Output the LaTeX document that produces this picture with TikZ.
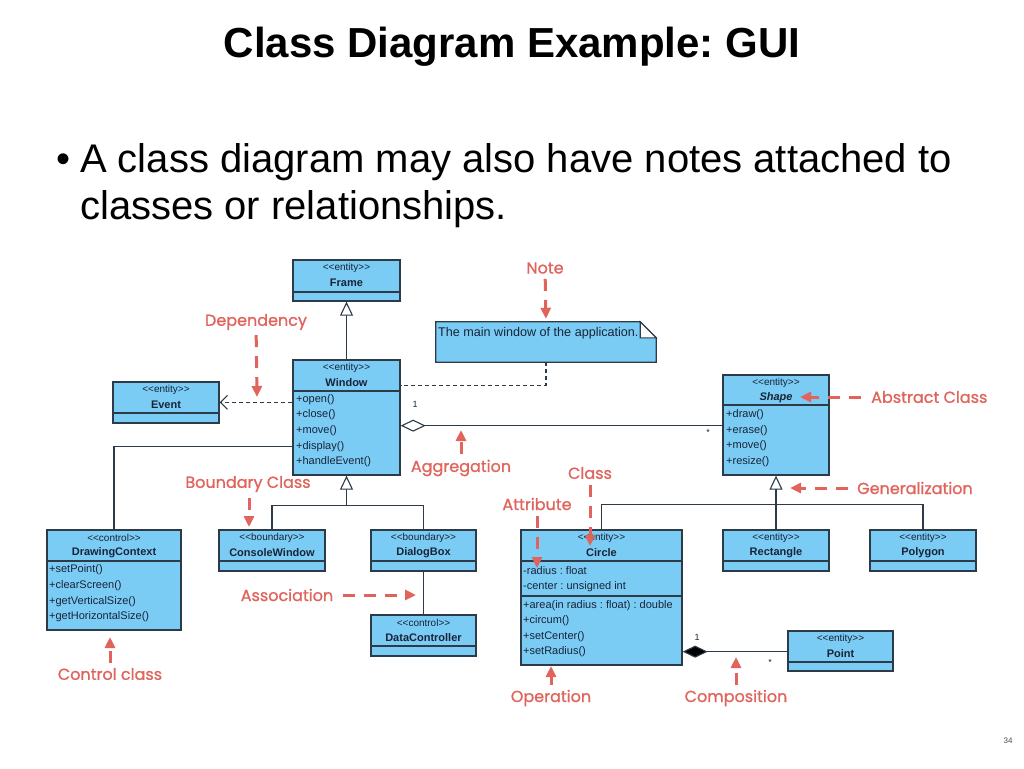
\documentclass[tikz,border=0pt]{standalone}
\usepackage{fontspec}
\setmainfont{Liberation Sans}
\newfontfamily\annfont{Poppins}[FakeBold=1]
\usetikzlibrary{arrows.meta,fit,calc}
\definecolor{clsfill}{RGB}{122,204,245}
\definecolor{clsdraw}{RGB}{45,58,72}
\definecolor{clstext}{RGB}{25,35,55}
\definecolor{annred}{RGB}{224,100,92}
\frenchspacing
\tikzset{
  cls/.style={draw=clsdraw, fill=clsfill, line width=1.3pt, inner sep=0pt, rectangle},
  sepline/.style={draw=clsdraw, line width=1.1pt},
  stereo/.style={font=\fontsize{10}{11}\selectfont, text=clstext, inner sep=0pt},
  cname/.style={font=\bfseries\fontsize{11}{12}\selectfont, text=clstext, inner sep=0pt},
  member/.style={font=\fontsize{11}{12}\selectfont, text=clstext, inner sep=0pt, anchor=west},
  mult/.style={font=\fontsize{9}{10}\selectfont, text=clstext, inner sep=0pt},
  conn/.style={draw=clsdraw, line width=1.1pt},
  dconn/.style={conn, dash pattern=on 4pt off 3pt},
  gen/.style={conn, -{Triangle[open, fill=white, width=13pt, length=14pt]}},
  ann/.style={font=\annfont\fontsize{16}{17}\selectfont, text=annred, inner sep=0pt},
  annarrow/.style={draw=annred, line width=3pt, dash pattern=on 12pt off 9pt,
    -{Triangle[width=10pt, length=11pt]}},
}
\newcommand\umlcls[8]{%
  \node[cls, fit={(#2,#3)(#4,#5)}] (#1) {};
  \draw[sepline] (#2,#6) -- (#4,#6);
  \node[stereo] at ({(#2+#4)/2},{#3+8}) {#7};
  \node[cname] at ({(#2+#4)/2},{#3+23}) {#8};
}
\newcommand\ent{<\kern0pt<entity>\kern0pt>}
\newcommand\bnd{<\kern0pt<boundary>\kern0pt>}
\newcommand\ctl{<\kern0pt<control>\kern0pt>}
\begin{document}
\begin{tikzpicture}[x=1pt,y=-1pt]
\useasboundingbox (0,0) rectangle (1024,768);
\fill[white] (0,0) rectangle (1024,768);

% title and bullet
\node[font=\bfseries\fontsize{42}{46}\selectfont, inner sep=0pt] (title) at (512,47) {Class Diagram Example: GUI};
\node[font=\fontsize{40}{44}\selectfont, inner sep=0pt, anchor=base west] (bul) at (56,172) {•};
\node[font=\fontsize{40}{44}\selectfont, inner sep=0pt, anchor=base west] (b1) at (80,172) {A class diagram may also have notes attached to};
\node[font=\fontsize{40}{44}\selectfont, inner sep=0pt, anchor=base west] (b2) at (80,219) {classes or relationships.};

% classes
\umlcls{frame}{293}{260}{400}{301}{292}{\ent}{Frame}
\umlcls{window}{293}{360}{400}{475}{391}{\ent}{Window}
\node[member] at (296,400) {+open()};
\node[member] at (296,415) {+close()};
\node[member] at (296,431) {+move()};
\node[member] at (296,447) {+display()};
\node[member] at (296,462) {+handleEvent()};
\umlcls{event}{113}{382}{219}{423}{413}{\ent}{Event}
\umlcls{shape}{723}{375}{829}{475}{405}{\ent}{\textit{Shape}}
\node[member] at (726,415) {+draw()};
\node[member] at (726,431) {+erase()};
\node[member] at (726,446) {+move()};
\node[member] at (726,462) {+resize()};
\umlcls{dc}{47}{530}{181}{630}{561}{\ctl}{DrawingContext}
\node[member] at (49,570) {+setPoint()};
\node[member] at (49,586) {+clearScreen()};
\node[member] at (49,602) {+getVerticalSize()};
\node[member] at (49,617) {+getHorizontalSize()};
\umlcls{cw}{219}{530}{325}{571}{561}{\bnd}{ConsoleWindow}
\umlcls{db}{371}{530}{476}{571}{561}{\bnd}{DialogBox}
\umlcls{dctrl}{371}{615}{476}{656}{646}{\ctl}{DataController}
\umlcls{ccircle}{521}{530}{682}{665}{561}{\ent}{Circle}
\draw[sepline] (521,596) -- (682,596);
\node[member] at (523,571) {-radius : float};
\node[member] at (523,587) {-center : unsigned int};
\node[member] at (523,606) {+area(in radius : float) : double};
\node[member] at (523,621) {+circum()};
\node[member] at (523,637) {+setCenter()};
\node[member] at (523,652) {+setRadius()};
\umlcls{rect}{723}{530}{829}{571}{561}{\ent}{Rectangle}
\umlcls{poly}{870}{530}{976}{571}{561}{\ent}{Polygon}
\umlcls{point}{788}{631}{893}{671}{662}{\ent}{Point}

% note
\node[inner sep=0pt, fit={(436,322)(656,362)}] (note) {};
\filldraw[draw=clsdraw, fill=clsfill, line width=1.3pt] (note.north west) -- ([xshift=-16pt]note.north east) -- ([yshift=-16pt]note.north east) -- (note.south east) -- (note.south west) -- cycle;
\filldraw[draw=clsdraw, fill=white, line width=1.1pt] ([xshift=-16pt]note.north east) -- ([xshift=-16pt,yshift=-16pt]note.north east) -- ([yshift=-16pt]note.north east) -- cycle;
\node[member, font=\fontsize{12.6}{13}\selectfont] (notetext) at (438,333) {The main window of the application.};

% connectors
\draw[gen] (window.north) -- (frame.south);
\coordinate (wdep) at ($(window.north west)+(0,43)$);
\draw[dconn, -{Straight Barb[length=7pt, width=14pt]}] (wdep) -- (wdep -| event.east);
\coordinate (wnote) at ($(window.north east)+(0,26)$);
\draw[dconn] (note.south) |- (wnote);
\coordinate (wagg) at ($(window.south east)+(0,-50)$);
\draw[conn, {Diamond[fill=white, width=12pt, length=25pt]}-] (wagg) -- (wagg -| shape.west);
\node[mult] at (415,404) {1};
\node[mult] at (708,432) {*};
\coordinate (wdc) at ($(window.north west)+(0,87)$);
\draw[conn] (wdc) -| (dc.north);
\coordinate (wj) at ($(window.south)+(0,30)$);
\draw[conn] (cw.north) |- (wj) -| (db.north);
\draw[gen] (wj) -- (window.south);
\draw[conn] (db.south) -- (dctrl.north);
\coordinate (sj) at ($(shape.south)+(0,29)$);
\draw[conn] (ccircle.north) |- (sj) -| (poly.north);
\draw[conn] (rect.north) -- (rect.north |- sj);
\draw[gen] (sj) -- (shape.south);
\coordinate (cc) at ($(ccircle.south east)+(0,-14)$);
\draw[conn, {Diamond[fill=black, width=12pt, length=25pt]}-] (cc) -- (cc -| point.west);
\node[mult] at (697,637) {1};
\node[mult] at (770,662) {*};

% annotations
\node[ann] (lnote) at (545,268) {Note};
\draw[annarrow, shorten <=5pt, shorten >=3pt] (lnote) -- (note.north);
\node[ann] (ldep) at (256,322) {Dependency};
\coordinate (tdep) at (257,397);
\draw[annarrow, shorten <=5pt] (ldep) -- (tdep);
\node[ann, anchor=west] (labs) at (871,397) {Abstract Class};
\coordinate (tabs) at (800,397);
\draw[annarrow, shorten <=10pt] (labs) -- (tabs);
\node[ann] (lagg) at (461,468) {Aggregation};
\coordinate (tagg) at (461,430);
\draw[annarrow, shorten <=6pt] (lagg) -- (tagg);
\node[ann] (lbnd) at (248,484) {Boundary Class};
\coordinate (tbnd) at (249,527);
\draw[annarrow, shorten <=6pt] (lbnd.south -| tbnd) -- (tbnd);
\node[ann] (lcls) at (590,473) {Class};
\coordinate (tcls) at (590,546);
\draw[annarrow, shorten <=6pt] (lcls) -- (tcls);
\node[ann] (latt) at (537,504) {Attribute};
\coordinate (tatt) at (537,568);
\draw[annarrow, shorten <=6pt] (latt) -- (tatt);
\node[ann, anchor=west] (lgen) at (857,488) {Generalization};
\coordinate (tgen) at (790,488);
\draw[annarrow, shorten <=9pt] (lgen) -- (tgen);
\node[ann] (lasc) at (287,595) {Association};
\coordinate (tasc) at (416,595);
\draw[annarrow, shorten <=10pt] (lasc) -- (tasc);
\node[ann] (lctl) at (110,674) {Control class};
\coordinate (tctl) at (110,637);
\draw[annarrow, shorten <=5pt] (lctl) -- (tctl);
\node[ann] (lop) at (551,698) {Operation};
\coordinate (top) at (551,666);
\draw[annarrow, shorten <=5pt] (lop) -- (top);
\node[ann] (lcomp) at (736,698) {Composition};
\coordinate (tcomp) at (736,657);
\draw[annarrow, shorten <=5pt] (lcomp) -- (tcomp);

\node[font=\fontsize{8}{9}\selectfont, text=black!70, inner sep=0pt] (pg) at (1008,741) {34};
\end{tikzpicture}
\end{document}
